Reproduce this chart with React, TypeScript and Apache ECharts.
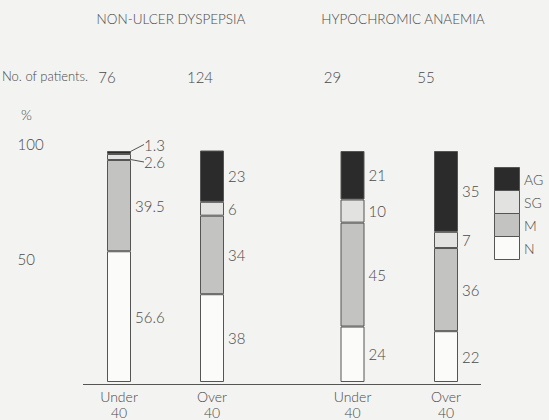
import React, { useEffect, useRef } from "react";
import * as echarts from "echarts";

const groupTitles = ["NON-ULCER DYSPEPSIA", "HYPOCHROMIC ANAEMIA"];
const ageGroups = ["Under\n40", "Over\n40"];
const patientsNUD = ["76", "124"];
const patientsHA = ["29", "55"];
const seriesNames = ["N", "M", "SG", "AG"];
// values per series: [Under 40, Over 40]
const nudN = [56.6, 38];
const nudM = [39.5, 34];
const nudSG = [2.6, 6];
const nudAG = [1.3, 23];
const haN = [24, 22];
const haM = [45, 36];
const haSG = [10, 7];
const haAG = [21, 35];
const yTicks = [50, 100];

const FONT = "Lato, 'Noto Sans', sans-serif";
const TXT = "#4a4a4a";
const BG = "#f3f3f1";
const EDGE = "#555";
const colors: Record<string, string> = { N: "#fbfbfa", M: "#c3c3c1", SG: "#e2e2e0", AG: "#2b2b2b" };

export default function App() {
  const ref = useRef<HTMLDivElement>(null);
  useEffect(() => {
    if (!ref.current) return;
    const chart = echarts.init(ref.current, null, { renderer: "svg" });
    const nud: Record<string, number[]> = { N: nudN, M: nudM, SG: nudSG, AG: nudAG };
    const ha: Record<string, number[]> = { N: haN, M: haM, SG: haSG, AG: haAG };
    const series: any[] = [];
    [nud, ha].forEach((grp, gi) => {
      seriesNames.forEach((name) => {
        const moved = gi === 0 && (name === "AG" || name === "SG");
        series.push({
          type: "bar",
          name,
          xAxisIndex: gi * 2,
          yAxisIndex: gi,
          stack: "g" + gi,
          barWidth: 24,
          data: grp[name].map((v, i) =>
            moved && i === 0
              ? { value: v, labelLine: { show: true, lineStyle: { color: EDGE, width: 1 } } }
              : { value: v }
          ),
          itemStyle: { color: colors[name], borderColor: EDGE, borderWidth: 1 },
          label: {
            show: true,
            position: "right",
            distance: 4,
            color: TXT,
            fontFamily: FONT,
            fontWeight: 300,
            fontSize: 15,
          },
          labelLine: { show: false },
          labelLayout: moved
            ? (p: any) => (p.dataIndex === 0 ? { dx: 9, dy: name === "AG" ? -8 : 5 } : {})
            : undefined,
        });
      });
    });
    const grids = [
      { left: 72.5, width: 186, top: 151, bottom: 36 },
      { left: 305.75, width: 187, top: 151, bottom: 36 },
    ];
    const xAxes: any[] = [];
    const patients = [patientsNUD, patientsHA];
    [0, 1].forEach((gi) => {
      xAxes.push({
        type: "category",
        gridIndex: gi,
        data: ageGroups,
        axisLine: { show: false },
        axisTick: { show: false },
        axisLabel: {
          color: TXT,
          fontFamily: FONT,
          fontWeight: 300,
          fontSize: 14,
          lineHeight: 16,
          margin: 6,
        },
      });
      xAxes.push({
        type: "category",
        gridIndex: gi,
        position: "top",
        offset: 74,
        data: patients[gi],
        axisLine: { show: false },
        axisTick: { show: false },
        axisLabel: {
          color: TXT,
          fontFamily: FONT,
          fontWeight: 300,
          fontSize: 15,
          margin: 0,
          verticalAlign: "middle",
          padding: [0, gi === 0 ? 24 : 40, 0, 0],
        },
      });
    });
    const legendOrder = [...seriesNames].reverse();
    const legendGraphics: any[] = [];
    legendOrder.forEach((name, i) => {
      legendGraphics.push({
        type: "rect",
        shape: { x: 494.5, y: 167.5 + i * 23, width: 25, height: 23 },
        style: { fill: colors[name], stroke: EDGE, lineWidth: 1 },
      });
      legendGraphics.push({
        type: "text",
        x: 524,
        y: 179 + i * 23,
        style: {
          text: name,
          fill: TXT,
          font: `300 14px ${FONT}`,
          verticalAlign: "middle",
        },
      });
    });
    const option: any = {
      animation: false,
      backgroundColor: BG,
      title: groupTitles.map((t, i) => ({
        text: t,
        left: i === 0 ? 166 : 398,
        top: 7,
        textAlign: "center",
        textStyle: { color: TXT, fontFamily: FONT, fontWeight: 300, fontSize: 13.5 },
      })),
      grid: grids,
      xAxis: xAxes,
      yAxis: [
        {
          type: "value",
          gridIndex: 0,
          min: 0,
          max: 100,
          interval: 50,
          axisLine: { show: false },
          axisTick: { show: false },
          splitLine: { show: false },
          axisLabel: {
            align: "left",
            margin: 55,
            color: TXT,
            fontFamily: FONT,
            fontWeight: 300,
            fontSize: 15,
            verticalAlign: "bottom",
            formatter: (v: number) => (yTicks.includes(v) ? String(v) : ""),
          },
        },
        { type: "value", gridIndex: 1, min: 0, max: 100, show: false },
      ],
      graphic: [
        {
          type: "text",
          left: 2,
          top: 69,
          style: { text: "No. of patients.", fill: TXT, font: `300 13px ${FONT}` },
        },
        {
          type: "text",
          left: 21,
          top: 107,
          style: { text: "%", fill: TXT, font: `300 14px ${FONT}` },
        },
        {
          type: "line",
          shape: { x1: 83, y1: 384.5, x2: 481, y2: 384.5 },
          style: { stroke: EDGE, lineWidth: 1 },
        },
        ...legendGraphics,
      ],
      series,
    };
    chart.setOption(option);
    return () => chart.dispose();
  }, []);
  return (
    <div
      ref={ref}
      style={{ position: "fixed", left: 0, top: 0, width: 549, height: 420 }}
    />
  );
}
